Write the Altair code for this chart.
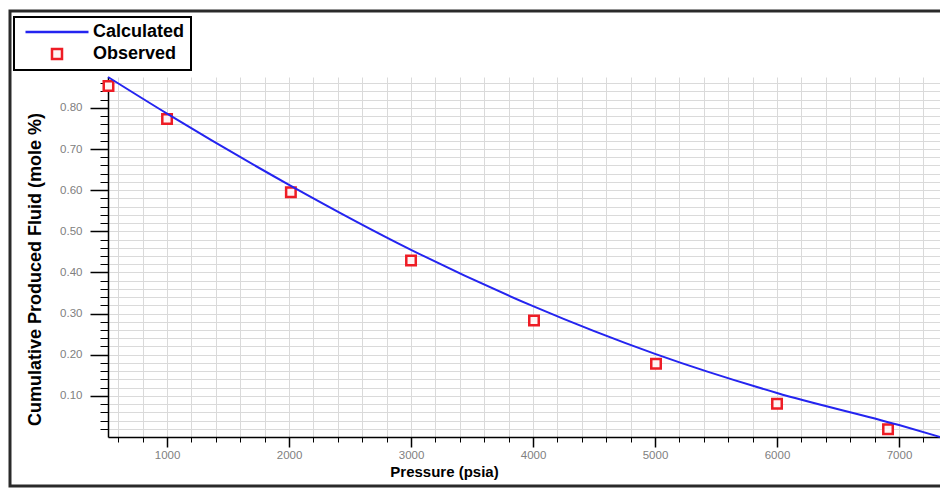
import altair as alt
import pandas as pd

# ---- data ----
calc_p = [516, 1000, 2000, 3000, 4000, 5000, 6000, 7000, 7336]
calc_v = [0.875, 0.786, 0.613, 0.455, 0.318, 0.202, 0.107, 0.029, 0.0]

obs_p = [520, 1000, 2015, 3000, 4008, 5008, 6000, 6910]
obs_v = [0.853, 0.773, 0.595, 0.429, 0.283, 0.178, 0.081, 0.019]

x_major = [1000, 2000, 3000, 4000, 5000, 6000, 7000]
x_minor = list(range(600, 7400, 200))
y_major = [0.10, 0.20, 0.30, 0.40, 0.50, 0.60, 0.70, 0.80]
y_minor = [round(0.02 * i, 2) for i in range(1, 44)]

series = ["Calculated", "Observed"]

calc_df = pd.DataFrame({"p": calc_p, "v": calc_v, "s": "Calculated"})
obs_df = pd.DataFrame({"p": obs_p, "v": obs_v, "s": "Observed"})

FONT = "Liberation Sans"
W, H = 832, 360

xscale = alt.Scale(domain=[516, 7336], nice=False, zero=False)
yscale = alt.Scale(domain=[0, 0.875], nice=False, zero=False)


def make_legend():
    return alt.Legend(
        title=None,
        orient="none",
        legendX=-94,
        legendY=-60,
        padding=6,
        symbolOffset=28,
        labelOffset=27,
        rowPadding=3,
        labelFont=FONT,
        labelFontSize=18,
        labelFontWeight="bold",
        labelColor="black",
        symbolSize=100,
        symbolStrokeWidth=2.5,
        symbolFillColor="white",
        strokeColor="black",
        fillColor="white",
    )


color = alt.Color(
    "s:N",
    scale=alt.Scale(domain=series, range=["#2424f0", "#ee1c25"]),
    legend=make_legend(),
)
shape = alt.Shape(
    "s:N",
    scale=alt.Scale(domain=series, range=["M-6.3,0H6.3", "M-1,-1H1V1H-1Z"]),
    legend=make_legend(),
)

# Calculated line with major axes
line = alt.Chart(calc_df).mark_line(strokeWidth=2, interpolate="monotone").encode(
    x=alt.X("p:Q", scale=xscale, axis=alt.Axis(
        orient="bottom", values=x_major, format="d", grid=False,
        tickSize=10, tickColor="black", tickWidth=1.5,
        domainColor="black", domainWidth=1.5,
        labelFont=FONT, labelFontSize=11.5, labelColor="#808080", labelPadding=2,
        title="Pressure (psia)", titleFont=FONT, titleFontSize=15,
        titleFontWeight="bold", titleColor="black", titleX=336, titleY=27,
    )),
    y=alt.Y("v:Q", scale=yscale, axis=alt.Axis(
        orient="left", values=y_major, format=".2f", grid=False,
        tickSize=18, tickColor="black", tickWidth=1.5,
        domainColor="black", domainWidth=1.5,
        labelFont=FONT, labelFontSize=11.5, labelColor="#808080", labelPadding=8,
        title="Cumulative Produced Fluid (mole %)", titleFont=FONT, titleFontSize=18,
        titleFontWeight="bold", titleColor="black", titleX=-64, titleY=192,
    )),
    color=color,
)

# Observed points with minor ticks + grid
points = alt.Chart(obs_df).mark_point(size=90, strokeWidth=2.5, filled=False, fill="#fff4f4", opacity=1).encode(
    x=alt.X("p:Q", scale=xscale, axis=alt.Axis(
        orient="bottom", values=x_minor, labels=False, domain=False,
        tickSize=5, tickColor="black", grid=True, gridColor="#dadada", gridWidth=1, title=None,
    )),
    y=alt.Y("v:Q", scale=yscale, axis=alt.Axis(
        orient="left", values=y_minor, labels=False, domain=False,
        tickSize=8, tickColor="black", grid=True, gridColor="#dadada", gridWidth=1, title=None,
    )),
    color=color,
    shape=shape,
)

frame = alt.Chart(pd.DataFrame({"a": [0]})).mark_rect(
    fill=None, stroke="#2a2a2a", strokeWidth=3
).encode(
    x=alt.value(-98), x2=alt.value(W + 20),
    y=alt.value(-66), y2=alt.value(409),
)

chart = alt.layer(frame, points, line).resolve_axis(
    x="independent", y="independent"
).properties(
    width=W, height=H,
    autosize=alt.AutoSizeParams(type="none"),
    padding={"left": 108, "top": 77, "right": 0, "bottom": 52},
).configure_view(stroke=None).configure_legend(strokeWidth=2)

chart.save("out.html", embed_options={"renderer": "svg", "actions": False})
